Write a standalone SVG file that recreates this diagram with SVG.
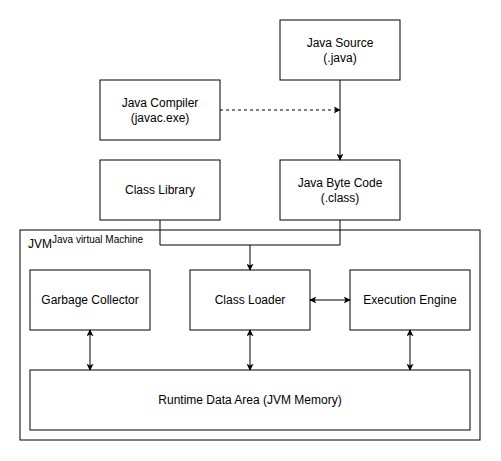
<svg xmlns="http://www.w3.org/2000/svg" width="501" height="461" viewBox="0 0 501 461">
<style>
.box{fill:#fff;stroke:#000;stroke-width:1}
.t{font-family:"Liberation Sans",Arial,Helvetica,sans-serif;font-size:12px;fill:#000;text-anchor:middle}
.c{fill:none;stroke:#000;stroke-width:1}
</style>
<defs>
<marker id="ah" viewBox="0 0 10 10" refX="9" refY="5" markerWidth="7" markerHeight="7" markerUnits="userSpaceOnUse" orient="auto-start-reverse">
<path d="M0,0 L10,5 L0,10 L2.5,5 Z" fill="#000"/>
</marker>
</defs>
<rect width="501" height="461" fill="#fff"/>
<g id="jvm">
<rect class="box" x="20" y="230" width="460" height="210"/>
<text x="28" y="248" font-family="Liberation Sans,Arial,sans-serif" font-size="12">JVM</text>
<text x="52" y="243" font-family="Liberation Sans,Arial,sans-serif" font-size="10">Java virtual Machine</text>
</g>
<g id="java-source">
<rect class="box" x="280" y="20" width="120" height="60"/>
<text class="t" x="340" y="47">Java Source</text>
<text class="t" x="340" y="62">(.java)</text>
</g>
<g id="java-compiler">
<rect class="box" x="100" y="80" width="120" height="60"/>
<text class="t" x="160" y="107">Java Compiler</text>
<text class="t" x="160" y="122">(javac.exe)</text>
</g>
<g id="class-library">
<rect class="box" x="100" y="160" width="120" height="60"/>
<text class="t" x="160" y="194">Class Library</text>
</g>
<g id="byte-code">
<rect class="box" x="280" y="160" width="120" height="60"/>
<text class="t" x="340" y="187">Java Byte Code</text>
<text class="t" x="340" y="202">(.class)</text>
</g>
<g id="garbage-collector">
<rect class="box" x="30" y="270" width="120" height="60"/>
<text class="t" x="90" y="304">Garbage Collector</text>
</g>
<g id="class-loader">
<rect class="box" x="190" y="270" width="120" height="60"/>
<text class="t" x="250" y="304">Class Loader</text>
</g>
<g id="execution-engine">
<rect class="box" x="350" y="270" width="120" height="60"/>
<text class="t" x="410" y="304">Execution Engine</text>
</g>
<g id="runtime-data-area">
<rect class="box" x="30" y="370" width="440" height="60"/>
<text class="t" x="250" y="404">Runtime Data Area (JVM Memory)</text>
</g>
<g id="connectors">
<path class="c" d="M340,80 V160" marker-end="url(#ah)"/>
<path class="c" d="M220,110 H340" stroke-dasharray="3 3" marker-end="url(#ah)"/>
<path class="c" d="M160,220 V245 H250 V270" marker-end="url(#ah)"/>
<path class="c" d="M340,220 V245 H250"/>
<path class="c" d="M310,300 H350" marker-start="url(#ah)" marker-end="url(#ah)"/>
<path class="c" d="M90,330 V370" marker-start="url(#ah)" marker-end="url(#ah)"/>
<path class="c" d="M250,330 V370" marker-start="url(#ah)" marker-end="url(#ah)"/>
<path class="c" d="M410,330 V370" marker-start="url(#ah)" marker-end="url(#ah)"/>
</g>
</svg>
